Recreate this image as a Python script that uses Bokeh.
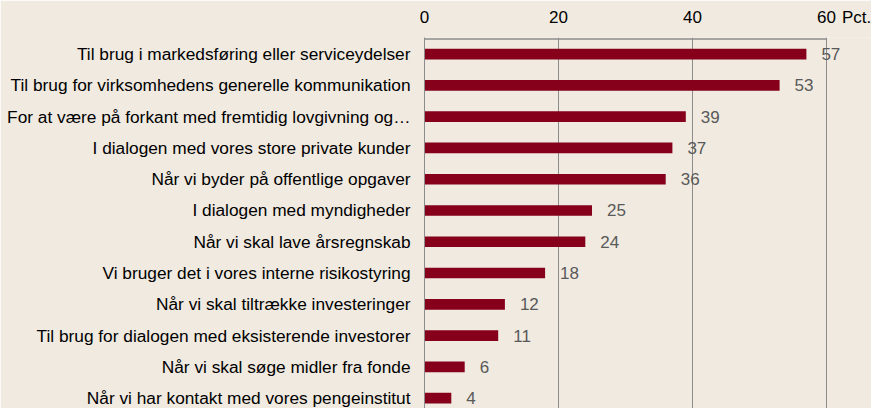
from bokeh.plotting import figure
from bokeh.models import Range1d, FixedTicker, LinearAxis, ColumnDataSource
from bokeh.embed import file_html
from bokeh.resources import INLINE
from bokeh.core.properties import value

categories = [
    "Til brug i markedsføring eller serviceydelser",
    "Til brug for virksomhedens generelle kommunikation",
    "For at være på forkant med fremtidig lovgivning og…",
    "I dialogen med vores store private kunder",
    "Når vi byder på offentlige opgaver",
    "I dialogen med myndigheder",
    "Når vi skal lave årsregnskab",
    "Vi bruger det i vores interne risikostyring",
    "Når vi skal tiltrække investeringer",
    "Til brug for dialogen med eksisterende investorer",
    "Når vi skal søge midler fra fonde",
    "Når vi har kontakt med vores pengeinstitut",
]
values = [57, 53, 39, 37, 36, 25, 24, 18, 12, 11, 6, 4]
x_ticks = [0, 20, 40, 60]
unit_label = "Pct."

BG = "#F0EAE0"
BAR = "#86001C"
GRID = "#8C8C8C"
FONT = "Liberation Sans"

pos = list(range(len(categories)))
src = ColumnDataSource(dict(y=pos, v=values, t=[str(v) for v in values]))

x_max = x_ticks[-1]
unit_pos = x_max + 4.5
p = figure(width=871, height=408, output_backend="svg", toolbar_location=None,
           x_range=Range1d(0, x_max + (871 - 826) * x_max / (826 - 424)),
           y_range=Range1d(11.33, -0.53),
           x_axis_location=None, y_axis_location=None,
           min_border_left=424, min_border_right=0, min_border_top=37, min_border_bottom=0)
p.background_fill_color = BG
p.border_fill_color = BG
p.outline_line_color = None

p.xgrid.ticker = FixedTicker(ticks=x_ticks)
p.xgrid.grid_line_color = GRID
p.ygrid.grid_line_color = None

# top border of the plot area, from the first to the last tick
top_src = ColumnDataSource(dict(x0=[x_ticks[0]], x1=[x_max], y=[-0.48]))
p.segment(x0="x0", x1="x1", y0="y", y1="y", source=top_src, line_color=GRID, line_width=1.5)

p.hbar(y="y", right="v", left=0, height=0.34, source=src, color=BAR, line_color=None)
p.text(x="v", y="y", text="t", source=src, x_offset=15, text_align="left", text_baseline="middle",
       text_font=value(FONT), text_font_size="17px", text_color="#595959")

top = LinearAxis(ticker=FixedTicker(ticks=x_ticks + [unit_pos]),
                 major_label_overrides={unit_pos: unit_label})
top.axis_line_color = None
top.major_tick_line_color = None
top.minor_tick_line_color = None
top.major_tick_out = 0
top.major_tick_in = 0
top.major_label_standoff = 11
top.major_label_text_font = FONT
top.major_label_text_font_size = "17px"
top.major_label_text_color = "#000000"
p.add_layout(top, "above")

left = LinearAxis(ticker=FixedTicker(ticks=pos),
                  major_label_overrides={i: c for i, c in enumerate(categories)})
left.axis_line_color = GRID
left.major_tick_line_color = None
left.minor_tick_line_color = None
left.major_tick_out = 0
left.major_tick_in = 0
left.major_label_standoff = 14
left.major_label_text_font = FONT
left.major_label_text_font_size = "17.3px"
left.major_label_text_color = "#000000"
p.add_layout(left, "left")

open("out.html", "w").write(file_html(p, INLINE))
